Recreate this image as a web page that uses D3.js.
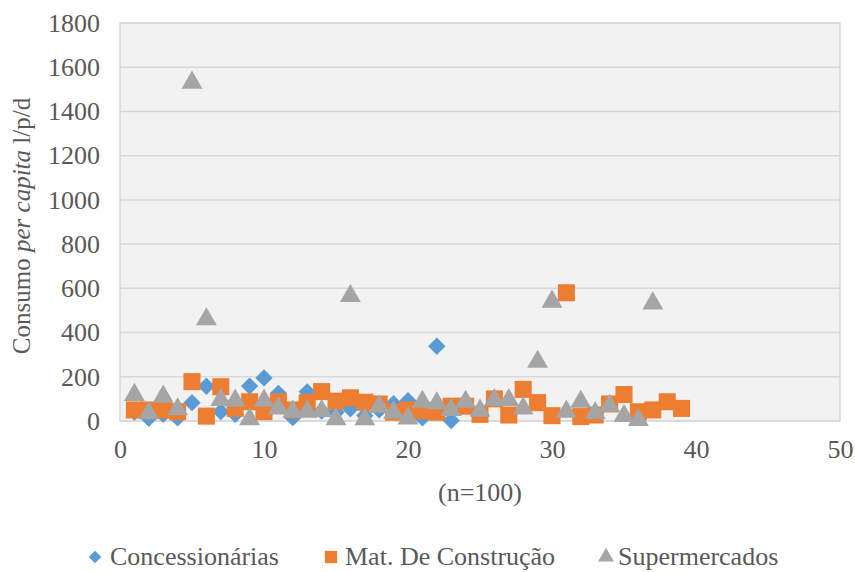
<!DOCTYPE html>
<html lang="pt">
<head>
<meta charset="UTF-8">
<title>Consumo per capita</title>
<script src="https://d3js.org/d3.v7.min.js"></script>
<style>
    body { margin: 0; background: #fff; }
    svg text { font-family: 'Liberation Serif', 'Times New Roman', serif; fill: #595959; }
</style>
</head>
<body>
<svg width="855" height="572"></svg>
<script>
// data (x = sample index, y = l/p/d)
const concessX = [1, 2, 3, 4, 5, 6, 7, 8, 9, 10, 11, 12, 13, 14, 15, 16, 17, 18, 19, 20, 21, 22, 23];
const concessY = [40, 12, 30, 14, 83, 157, 42, 30, 158, 195, 125, 15, 132, 45, 40, 55, 25, 50, 78, 92, 14, 338, 2];

const matX = [1, 2, 3, 4, 5, 6, 7, 8, 9, 10, 11, 12, 13, 14, 15, 16, 17, 18, 19, 20, 21, 22, 23, 24, 25, 26, 27, 28, 29, 30, 31, 32, 33, 34, 35, 36, 37, 38, 39];
const matY = [50, 50, 50, 42, 178, 22, 155, 57, 87, 42, 87, 50, 83, 133, 90, 105, 85, 77, 40, 50, 47, 40, 67, 67, 30, 100, 27, 143, 83, 24, 580, 20, 27, 77, 120, 42, 50, 87, 57];

const superX = [1, 2, 3, 4, 5, 6, 7, 8, 9, 10, 11, 12, 13, 14, 15, 16, 17, 18, 19, 20, 21, 22, 23, 24, 25, 26, 27, 28, 29, 30, 31, 32, 33, 34, 35, 36, 37];
const superY = [118, 35, 110, 53, 1530, 460, 95, 92, 8, 92, 57, 42, 42, 45, 8, 565, 8, 65, 38, 12, 87, 80, 50, 87, 47, 95, 95, 57, 268, 540, 42, 87, 36, 68, 23, 5, 532];

const xTicks = [0, 10, 20, 30, 40, 50];
const yTicks = [0, 200, 400, 600, 800, 1000, 1200, 1400, 1600, 1800];

const seriesNames = ["Concessionárias", "Mat. De Construção", "Supermercados"];
const colors = ["#5b9bd5", "#ed7d31", "#a5a5a5"];

const svg = d3.select("svg");
const plot = { left: 120, right: 840, top: 23, bottom: 421 };
const fontSize = "26px";

const x = d3.scaleLinear().domain([0, 50]).range([plot.left, plot.right]);
const y = d3.scaleLinear().domain([0, 1800]).range([plot.bottom, plot.top]);

// plot background
svg.append("rect")
    .attr("x", plot.left).attr("y", plot.top)
    .attr("width", plot.right - plot.left).attr("height", plot.bottom - plot.top)
    .attr("fill", "#f2f2f2")
    .attr("stroke", "#d9d9d9").attr("stroke-width", 1.5);

// horizontal grid
svg.append("g")
    .selectAll("line")
    .data(yTicks)
    .enter().append("line")
    .attr("x1", plot.left).attr("x2", plot.right)
    .attr("y1", d => y(d)).attr("y2", d => y(d))
    .attr("stroke", "#d9d9d9").attr("stroke-width", 1.5);

// axes (labels only, Excel style)
const yAxis = svg.append("g")
    .attr("transform", `translate(${plot.left},0)`)
    .call(d3.axisLeft(y).tickValues(yTicks).tickFormat(d3.format("d")).tickSize(0).tickPadding(20));
yAxis.attr("font-family", null).attr("font-size", null);
yAxis.select(".domain").remove();
yAxis.selectAll("text").style("font-size", fontSize);

const xAxis = svg.append("g")
    .attr("transform", `translate(0,${plot.bottom})`)
    .call(d3.axisBottom(x).tickValues(xTicks).tickFormat(d3.format("d")).tickSize(0).tickPadding(19));
xAxis.attr("font-family", null).attr("font-size", null);
xAxis.select(".domain").remove();
xAxis.selectAll("text").style("font-size", fontSize);

// axis titles
svg.append("text")
    .attr("x", (plot.left + plot.right) / 2).attr("y", 501)
    .attr("text-anchor", "middle")
    .style("font-size", fontSize)
    .text("(n=100)");

const yTitle = svg.append("text")
    .attr("transform", `translate(30,${(plot.top + plot.bottom) / 2 + 4}) rotate(-90)`)
    .attr("text-anchor", "middle")
    .style("font-size", "25px");
yTitle.append("tspan").text("Consumo ");
yTitle.append("tspan").style("font-style", "italic").text("per capita");
yTitle.append("tspan").text(" l/p/d");

// markers
const diamond = d3.symbol().type(d3.symbolSquare).size(150);
const square = d3.symbol().type(d3.symbolSquare).size(290);
const triangle = d3.symbol().type(d3.symbolTriangle).size(190);

const series = [
    { xs: concessX, ys: concessY, path: diamond, rot: 45 },
    { xs: matX, ys: matY, path: square, rot: 0 },
    { xs: superX, ys: superY, path: triangle, rot: 0 }
];

series.forEach((s, i) => {
    svg.append("g")
        .selectAll("path")
        .data(s.xs.map((v, j) => [v, s.ys[j]]))
        .enter().append("path")
        .attr("d", s.path())
        .attr("transform", d => `translate(${x(d[0])},${y(d[1])}) rotate(${s.rot})`)
        .attr("fill", colors[i]);
});

// legend
const legendItems = [
    { name: seriesNames[0], sx: 95, tx: 110, path: d3.symbol().type(d3.symbolSquare).size(80), rot: 45 },
    { name: seriesNames[1], sx: 331, tx: 345, path: d3.symbol().type(d3.symbolSquare).size(150), rot: 0 },
    { name: seriesNames[2], sx: 606, tx: 618, path: d3.symbol().type(d3.symbolTriangle).size(110), rot: 0 }
];

const legend = svg.append("g");
legendItems.forEach((it, i) => {
    legend.append("path")
        .attr("d", it.path())
        .attr("transform", `translate(${it.sx},557) rotate(${it.rot})`)
        .attr("fill", colors[i]);
    legend.append("text")
        .attr("x", it.tx).attr("y", 565)
        .style("font-size", fontSize)
        .text(it.name);
});
</script>
</body>
</html>
